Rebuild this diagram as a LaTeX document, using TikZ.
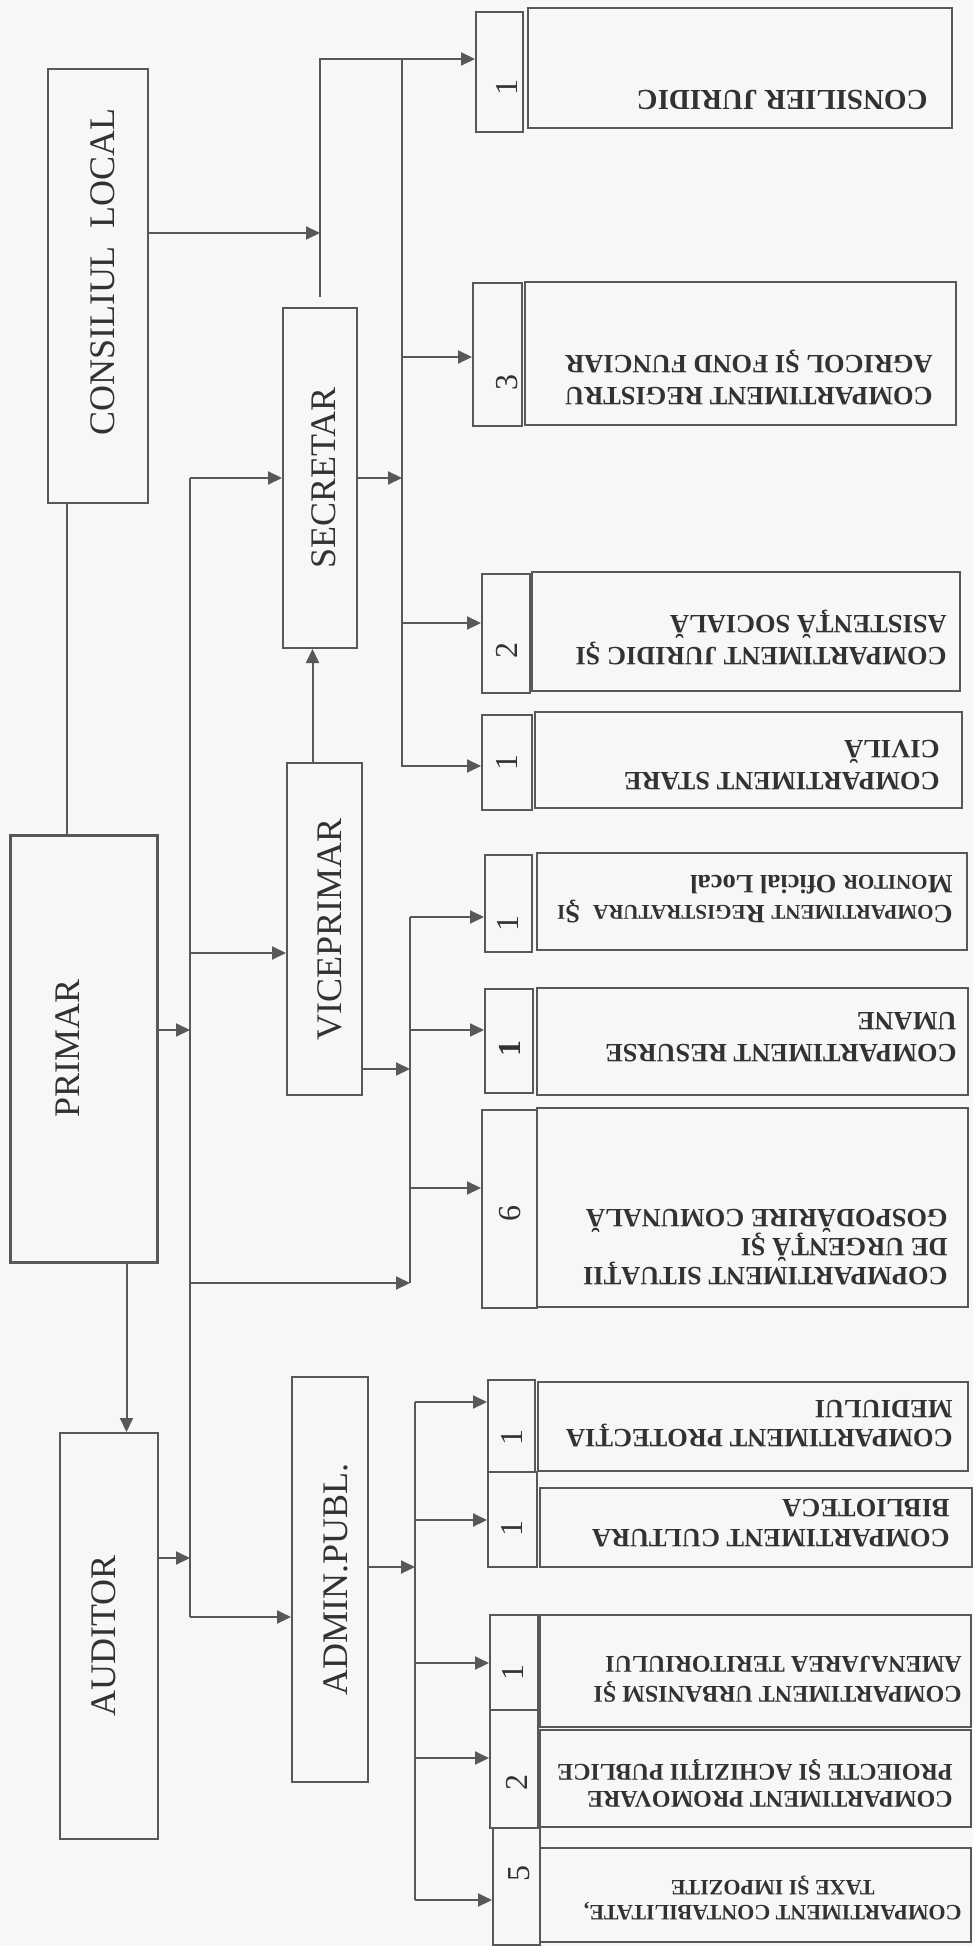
\documentclass[tikz,border=0pt]{standalone}
\usepackage{fontspec}
\setmainfont{Liberation Serif}
\usetikzlibrary{arrows.meta,fit}
\definecolor{linegray}{RGB}{88,88,88}
\definecolor{inkgray}{RGB}{50,50,50}
\newcommand{\scword}[2]{#1{\fontsize{10.5}{12}\selectfont #2}}
\tikzset{
  box/.style={draw=linegray,line width=1pt,inner sep=0pt},
  lbl/.style={rotate=90,inner sep=0pt,text=inkgray,font=\fontsize{18}{20}\selectfont},
  num/.style={rotate=90,inner sep=0pt,text=inkgray,font=\fontsize{16}{18}\selectfont},
  dtext/.style={rotate=180,anchor=north west,align=left,inner sep=0pt,text=inkgray,
    font=\bfseries\fontsize{13.2}{15.8}\selectfont},
  link/.style={draw=linegray,line width=1pt},
  arrow/.style={link,-{Triangle[length=7pt,width=6.5pt]}}
}
\begin{document}
\begin{tikzpicture}[x=0.5pt,y=-0.5pt]
  \fill[white!97!black] (0,0) rectangle (973,1946);
  \useasboundingbox (0,0) rectangle (973,1946);
  % conducere
  \node[box,fit={(48,69) (148,503)}] (cl) {};
  \node[box,line width=1.5pt,fit={(10,835) (157,1262)}] (prim) {};
  \node[box,fit={(60,1433) (158,1839)}] (aud) {};
  \node[box,fit={(283,308) (357,648)}] (sec) {};
  \node[box,fit={(287,763) (362,1095)}] (vice) {};
  \node[box,fit={(292,1377) (368,1782)}] (adm) {};
  \node[lbl] (tcl) at ([shift={(5,-14)}]cl.center) {CONSILIUL\ \ LOCAL};
  \node[lbl] (tpr) at ([xshift=-8pt]prim.center) {PRIMAR};
  \node[lbl] (tau) at ([xshift=-2.5pt]aud.center) {AUDITOR};
  \node[lbl] (tse) at ([xshift=2pt]sec.center) {SECRETAR};
  \node[lbl] (tvi) at ([xshift=2.5pt]vice.center) {VICEPRIMAR};
  \node[lbl] (tad) at ([xshift=3pt]adm.center) {ADMIN.PUBL.};

  % compartimente secretar
  \node[box,fit={(476,12) (523,132)}] (ncj) {};
  \node[box,fit={(528,8) (952,128)}] (bcj) {};
  \node[num] (kcj) at (507,88) {1};
  \node[dtext,font=\bfseries\fontsize{14.5}{17}\selectfont] (tcj) at (928,110) {CONSILIER JURIDIC};

  \node[box,fit={(473,283) (522,426)}] (nra) {};
  \node[box,fit={(525,282) (956,425)}] (bra) {};
  \node[num] (kra) at (507,383) {3};
  \node[dtext] (tra) at (933,405) {COMPARTIMENT REGISTRU\\AGRICOL ŞI FOND FUNCIAR};

  \node[box,fit={(482,574) (530,693)}] (nja) {};
  \node[box,fit={(532,572) (960,691)}] (bja) {};
  \node[num] (kja) at (507,650) {2};
  \node[dtext] (tja) at (947,665) {COMPARTIMENT JURIDIC ŞI\\ASISTENŢĂ SOCIALĂ};

  \node[box,fit={(482,715) (532,810)}] (nsc) {};
  \node[box,fit={(535,712) (962,808)}] (bsc) {};
  \node[num] (ksc) at (507,762) {1};
  \node[dtext] (tsc) at (940,790) {COMPARTIMENT STARE\\CIVILĂ};

  % compartimente viceprimar
  \node[box,fit={(485,855) (532,952)}] (nrm) {};
  \node[box,fit={(537,853) (967,950)}] (brm) {};
  \node[num] (krm) at (508,923) {1};
  \node[dtext,font=\bfseries\fontsize{13.2}{15}\selectfont] (trm) at (953,923)
    {\scword{C}{OMPARTIMENT} \scword{R}{EGISTRATURA}\ \ \scword{Ş}{I}\\\scword{M}{ONITOR} Oficial Local};

  \node[box,fit={(485,989) (533,1093)}] (nru) {};
  \node[box,fit={(537,988) (968,1095)}] (bru) {};
  \node[num,font=\bfseries\fontsize{16}{18}\selectfont] (kru) at (510,1048) {1};
  \node[dtext] (tru) at (957,1062) {COMPARTIMENT RESURSE\\UMANE};

  \node[box,fit={(482,1110) (537,1308)}] (ngc) {};
  \node[box,fit={(537,1108) (968,1307)}] (bgc) {};
  \node[num] (kgc) at (510,1213) {6};
  \node[dtext,font=\bfseries\fontsize{13.2}{14.5}\selectfont] (tgc) at (948,1285)
    {COPMPARTIMENT SITUAŢII\\DE URGENŢĂ ŞI\\GOSPODĂRIRE COMUNALĂ};

  % compartimente admin. publica
  \node[box,fit={(488,1380) (535,1472)}] (npm) {};
  \node[box,fit={(538,1382) (968,1471)}] (bpm) {};
  \node[num] (kpm) at (512,1437) {1};
  \node[dtext,font=\bfseries\fontsize{13.2}{14.5}\selectfont] (tpm) at (953,1447) {COMPARTIMENT PROTECŢIA\\MEDIULUI};

  \node[box,fit={(488,1472) (537,1567)}] (ncb) {};
  \node[box,fit={(540,1488) (972,1567)}] (bcb) {};
  \node[num] (kcb) at (512,1528) {1};
  \node[dtext,font=\bfseries\fontsize{13.2}{15}\selectfont] (tcb) at (950,1547) {COMPARTIMENT CULTURA\\BIBLIOTECA};

  \node[box,fit={(490,1615) (538,1710)}] (nua) {};
  \node[box,fit={(540,1615) (971,1727)}] (bua) {};
  \node[num] (kua) at (513,1672) {1};
  \node[dtext,font=\bfseries\fontsize{12}{15}\selectfont] (tua) at (962,1703)
    {COMPARTIMENT URBANISM ŞI\\AMENAJAREA TERITORIULUI};

  \node[box,fit={(490,1710) (538,1828)}] (npa) {};
  \node[box,fit={(540,1730) (971,1827)}] (bpa) {};
  \node[num] (kpa) at (517,1782) {2};
  \node[dtext,font=\bfseries\fontsize{12}{13.5}\selectfont] (tpa) at (953,1808)
    {COMPARTIMENT PROMOVARE\\PROIECTE ŞI ACHIZIŢII PUBLICE};

  \node[box,fit={(493,1828) (540,1945)}] (nct) {};
  \node[box,fit={(540,1848) (971,1942)}] (bct) {};
  \node[num] (kct) at (519,1873) {5};
  \node[dtext,align=center,font=\bfseries\fontsize{11}{12.5}\selectfont] (tct) at (962,1920)
    {COMPARTIMENT CONTABILITATE,\\TAXE ŞI IMPOZITE};

  % legaturi
  \coordinate (top) at (320,59);
  \coordinate (sbus) at (402,59);
  \coordinate (pbus) at (190,478);
  \coordinate (vbus) at (410,917);
  \coordinate (abus) at (415,1402);
  \draw[link] ([xshift=10pt]cl.south west) -- ([xshift=10pt]cl.south west |- prim.north);
  \draw[arrow,shorten <=5pt] (sec.north) -- (top) -- (top -| ncj.west);
  \draw[arrow] (cl.east |- 0,233) -- (top |- 0,233);
  \draw[link] (sbus) -- (402,767);
  \foreach \y/\n in {357/nra,623/nja,766/nsc}
    \draw[arrow] (402,\y) -- (\n.west |- 0,\y);
  \draw[arrow] (sec.east |- 0,478) -- (sbus |- 0,478);
  \draw[arrow] ([xshift=-6pt]vice.north) -- ([xshift=-6pt]vice.north |- sec.south);
  % primar
  \draw[link] (pbus) -- (190,1617);
  \draw[arrow] (pbus) -- (pbus -| sec.west);
  \draw[arrow] (190,953) -- (vice.west |- 0,953);
  \draw[arrow] (190,1617) -- (adm.west |- 0,1617);
  \draw[arrow] (190,1283) -- (vbus |- 0,1283);
  \draw[arrow] (prim.east |- 0,1030) -- (pbus |- 0,1030);
  \draw[arrow] (aud.east |- 0,1558) -- (pbus |- 0,1558);
  \draw[arrow] ([xshift=21.5pt]prim.south) -- ([xshift=21.5pt]prim.south |- aud.north);
  % viceprimar
  \draw[link] (vbus) -- (410,1283);
  \foreach \y/\n in {917/nrm,1030/nru,1188/ngc}
    \draw[arrow] (410,\y) -- (\n.west |- 0,\y);
  \draw[arrow] (vice.east |- 0,1069) -- (vbus |- 0,1069);
  % admin. publica
  \draw[link] (abus) -- (415,1900);
  \foreach \y/\n in {1402/npm,1520/ncb,1663/nua,1758/npa,1900/nct}
    \draw[arrow] (415,\y) -- (\n.west |- 0,\y);
  \draw[arrow] (adm.east |- 0,1567) -- (abus |- 0,1567);
\end{tikzpicture}
\end{document}
